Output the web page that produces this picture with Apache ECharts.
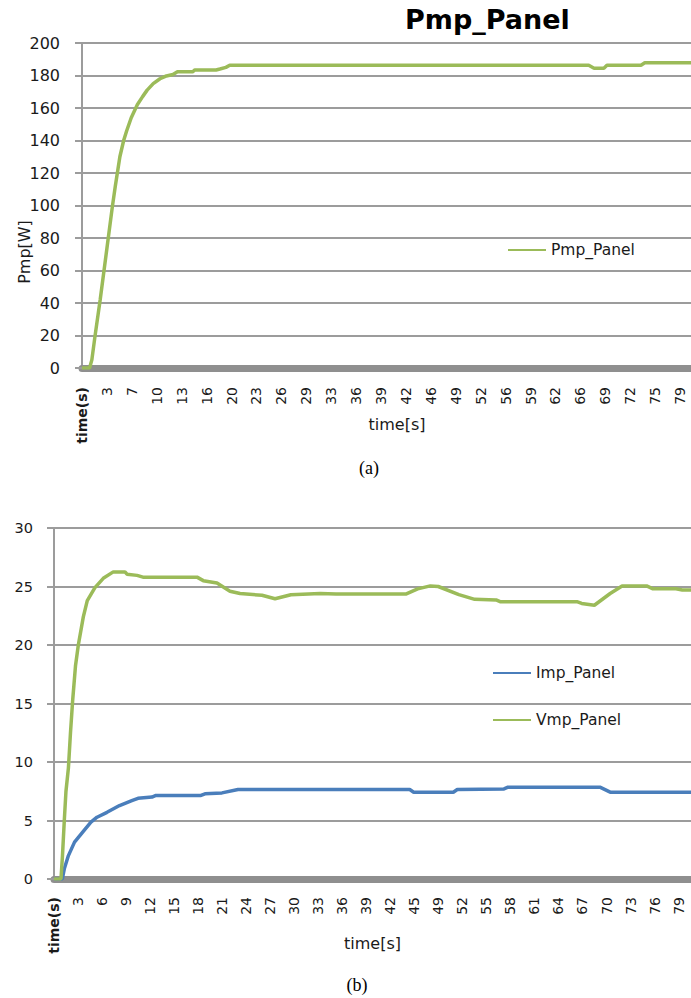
<!DOCTYPE html>
<html>
<head>
<meta charset="utf-8">
<title>Pmp_Panel</title>
<script src="https://cdn.jsdelivr.net/npm/echarts@6/dist/echarts.min.js"></script>
<style>
  html, body { margin: 0; padding: 0; background: #ffffff; }
  #chart { width: 691px; height: 998px; }
</style>
</head>
<body>
<div id="chart"></div>
<script>
// (a) panel maximum power over time
const pmpTime  = [0, 1.0, 1.3, 1.7, 2.4, 3.3, 4.0, 4.4, 5.0, 5.5, 5.9, 6.5, 7.3, 8.0, 8.6, 9.4, 10.3, 11.0, 12.0, 12.6,
                  14.6, 14.9, 17.7, 18.2, 19.0, 19.5, 66.9, 67.6, 68.9, 69.3, 73.8, 74.3, 80.4];
const pmpPanel = [0, 0, 5, 19, 42, 74, 99, 112, 130, 140, 146, 154, 162, 167, 171, 175, 178, 179.5, 180.6, 182.3,
                  182.3, 183.4, 183.4, 184, 185, 186.3, 186.3, 184.5, 184.5, 186.3, 186.3, 187.8, 187.8];

// (b) panel current and voltage at the maximum power point
const impTime  = [0, 1.05, 1.30, 1.82, 2.59, 3.62, 4.66, 5.43, 6.69, 8.27, 9.82, 10.6, 12.37, 12.87, 18.55, 19.06,
                  21.2, 23.22, 44.9, 45.4, 50.4, 50.9, 56.8, 57.3, 68.9, 70.2, 80.4];
const impPanel = [0, 0, 0.87, 2.0, 3.15, 4.0, 4.86, 5.28, 5.7, 6.28, 6.7, 6.9, 7.0, 7.14, 7.14, 7.28,
                  7.36, 7.65, 7.65, 7.42, 7.42, 7.65, 7.7, 7.85, 7.85, 7.42, 7.42];

const vmpTime  = [0, 0.88, 1.07, 1.30, 1.51, 1.82, 2.08, 2.36, 2.71, 3.07, 3.70, 4.20, 5.17, 6.22, 7.48, 8.96, 9.21,
                  10.48, 11.23, 18.05, 18.84, 20.57, 22.21, 23.48, 26.25, 27.9, 29.9, 33.6, 35.6, 44.4, 45.9, 47.5,
                  48.5, 51.1, 53.1, 55.8, 56.3, 66.0, 66.6, 68.2, 70.2, 71.7, 74.8, 75.6, 78.5, 79.3, 80.4];
const vmpPanel = [0, 0, 2, 5, 7.5, 9.5, 12.5, 15.3, 18.2, 20, 22.4, 23.8, 24.9, 25.7, 26.25, 26.25, 26.05,
                  25.95, 25.8, 25.8, 25.5, 25.3, 24.6, 24.4, 24.25, 23.95, 24.3, 24.4, 24.35, 24.35, 24.8, 25.05,
                  25.0, 24.3, 23.9, 23.85, 23.7, 23.7, 23.55, 23.4, 24.4, 25.05, 25.05, 24.8, 24.8, 24.7, 24.7];

// category-style tick labels along the time axes
const timeLabelsA = ['time(s)', '3', '7', '10', '13', '16', '20', '23', '26', '29', '33', '36', '39',
                     '42', '46', '49', '52', '56', '59', '62', '66', '69', '72', '75', '79'];
const timeLabelsB = ['time(s)', '3', '6', '9', '12', '15', '18', '21', '24', '27', '30', '33', '36', '39',
                     '42', '45', '49', '52', '55', '58', '61', '64', '67', '70', '73', '76', '79'];
const stepA = 3.29;
const stepB = 3.032;
const timeMax = 80.4;

const FONT = 'DejaVu Sans';
const INK = '#1a1a1a';
const GRID_GRAY = '#9c9c9c';
const GREEN = '#9bbb59';
const BLUE = '#4a7ebb';

function zip(xs, ys) { return xs.map((x, i) => [x, ys[i]]); }

function tickFormatter(labels, step) {
  return function (v) {
    const n = Math.round(v / step);
    if (Math.abs(v - n * step) > 1e-4 || n >= labels.length) return '';
    return n === 0 ? '{b|' + labels[0] + '}' : labels[n];
  };
}

function timeAxis(gridIndex, labels, step, margin, nameGap, namePad) {
  return {
    type: 'value', gridIndex, min: 0, max: timeMax, interval: step,
    axisLine: { show: true, onZero: false, lineStyle: { color: '#8f8f8f', width: 7 } },
    axisTick: { show: false },
    splitLine: { show: false },
    axisLabel: {
      rotate: 90, margin, fontSize: 14, color: INK, fontFamily: FONT,
      showMaxLabel: false,
      formatter: tickFormatter(labels, step),
      rich: { b: { fontWeight: 'bold', fontSize: 14, color: INK, fontFamily: FONT } }
    },
    name: 'time[s]', nameLocation: 'middle', nameGap, nameMoveOverlap: false,
    nameTextStyle: { fontSize: 16, color: INK, fontFamily: FONT, padding: namePad }
  };
}

function valueAxis(gridIndex, max, interval, fontSize, margin) {
  return {
    type: 'value', gridIndex, min: 0, max, interval,
    axisLine: { show: true, lineStyle: { color: GRID_GRAY, width: 2 } },
    axisTick: { show: true, length: 7, lineStyle: { color: GRID_GRAY, width: 2 } },
    splitLine: { show: true, lineStyle: { color: GRID_GRAY, width: 2 } },
    axisLabel: { fontSize, margin, color: INK, fontFamily: FONT }
  };
}

const legendText = { fontSize: 15.5, color: INK, fontFamily: FONT };

const chart = echarts.init(document.getElementById('chart'), null, { renderer: 'svg' });
chart.setOption({
  animation: false,
  backgroundColor: '#ffffff',
  title: {
    text: 'Pmp_Panel', left: 405, top: 6, padding: 0,
    textStyle: { fontFamily: FONT, fontWeight: 'bold', fontSize: 27, color: '#000000' }
  },
  grid: [
    { left: 82, top: 43, right: 0, height: 325, outerBoundsMode: 'none' },
    { left: 54, top: 528, right: 0, height: 351, outerBoundsMode: 'none' }
  ],
  xAxis: [
    timeAxis(0, timeLabelsA, stepA, 19, 48, [0, 0, 0, 21]),
    timeAxis(1, timeLabelsB, stepB, 18, 56, [0, 0, 0, 0])
  ],
  yAxis: [
    valueAxis(0, 200, 20, 16, 22),
    valueAxis(1, 30, 5, 14.5, 21)
  ],
  legend: [
    {
      data: ['Pmp_Panel'], orient: 'vertical', left: 508, top: 242, padding: 0,
      icon: 'rect', itemWidth: 38, itemHeight: 2, textStyle: legendText
    },
    {
      data: ['Imp_Panel', 'Vmp_Panel'], orient: 'vertical', left: 493, top: 665, padding: 0,
      itemGap: 31, icon: 'rect', itemWidth: 38, itemHeight: 2, textStyle: legendText
    }
  ],
  graphic: [
    {
      type: 'text', x: 24, y: 252, rotation: Math.PI / 2,
      style: { text: 'Pmp[W]', fontSize: 16, fontFamily: FONT, fill: INK, align: 'center', verticalAlign: 'middle' }
    },
    {
      type: 'text', x: 369, y: 468,
      style: { text: '(a)', fontSize: 18, fontFamily: 'Liberation Serif', fill: '#000', align: 'center', verticalAlign: 'middle' }
    },
    {
      type: 'text', x: 357, y: 985,
      style: { text: '(b)', fontSize: 18, fontFamily: 'Liberation Serif', fill: '#000', align: 'center', verticalAlign: 'middle' }
    }
  ],
  series: [
    {
      name: 'Pmp_Panel', type: 'line', xAxisIndex: 0, yAxisIndex: 0,
      data: zip(pmpTime, pmpPanel), showSymbol: false,
      lineStyle: { width: 3.5, color: GREEN }, itemStyle: { color: GREEN }
    },
    {
      name: 'Imp_Panel', type: 'line', xAxisIndex: 1, yAxisIndex: 1,
      data: zip(impTime, impPanel), showSymbol: false,
      lineStyle: { width: 3.5, color: BLUE }, itemStyle: { color: BLUE }
    },
    {
      name: 'Vmp_Panel', type: 'line', xAxisIndex: 1, yAxisIndex: 1,
      data: zip(vmpTime, vmpPanel), showSymbol: false,
      lineStyle: { width: 3.5, color: GREEN }, itemStyle: { color: GREEN }
    }
  ]
});
</script>
</body>
</html>
